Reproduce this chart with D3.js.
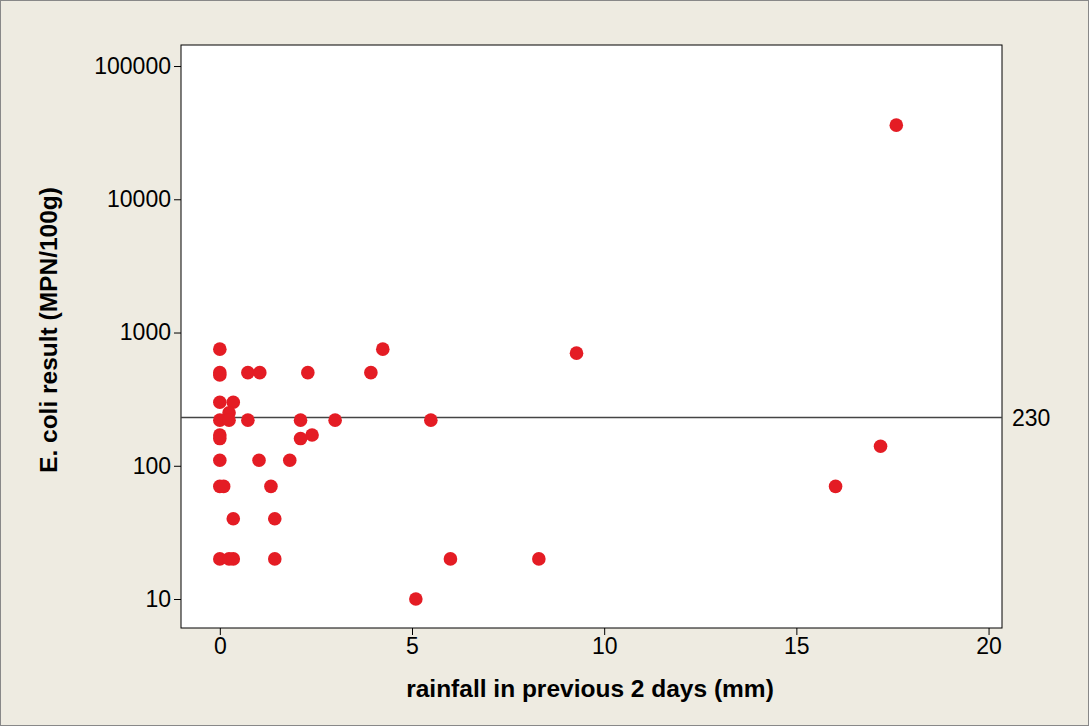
<!DOCTYPE html>
<html><head><meta charset="utf-8">
<script src="https://cdn.jsdelivr.net/npm/d3@7"></script>
<style>body{margin:0;background:#eeebe1;}</style>
</head><body><div id="chart"></div>
<script>
const rainfall = [0,0,0,0.73,1.04,2.29,0,0.35,0.24,0,0.24,0.73,2.1,3.0,0,0,2.1,2.4,0,1.02,1.82,0,0.1,1.33,0.35,1.43,0,0.24,0.35,1.43,4.24,3.93,5.49,9.28,5.1,6.0,8.3,16.02,17.19,17.6];
const ecoli = [750,500,480,500,500,500,300,300,250,220,220,220,220,220,170,160,160,170,110,110,110,70,70,70,40,40,20,20,20,20,750,500,220,700,10,20,20,70,140,36000];
const xTicks = [0,5,10,15,20];
const yTicks = [10,100,1000,10000,100000];
const refValue = 230;

const W = 1089, H = 726;
const m = {left:181, right:87, top:45, bottom:98};
const font = "Liberation Sans, Arial";
const svg = d3.select("#chart").append("svg").attr("width", W).attr("height", H);
svg.append("rect").attr("x",0.5).attr("y",0.5).attr("width",W-1).attr("height",H-1)
  .attr("fill","#eeebe1").attr("stroke","#888");
const pw = W - m.left - m.right, ph = H - m.top - m.bottom;
const g = svg.append("g").attr("transform", `translate(${m.left},${m.top})`);
g.append("rect").attr("width", pw).attr("height", ph).attr("fill","#fff").attr("stroke","#000");

const x = d3.scaleLinear().domain([-1.01, 20.35]).range([0, pw]);
const y = d3.scaleLog().domain([6.06, 143800]).range([ph, 0]);

const xa = g.append("g").attr("transform", `translate(0,${ph})`)
  .call(d3.axisBottom(x).tickValues(xTicks).tickSize(7).tickSizeOuter(0));
const ya = g.append("g").call(d3.axisLeft(y).tickValues(yTicks).tickFormat(d3.format("d")).tickSize(7).tickSizeOuter(0));
[xa, ya].forEach(a => {
  a.select(".domain").remove();
  a.selectAll("text").attr("font-family",font).attr("font-size",23).attr("fill","#000");
});

g.append("line").attr("x1",0).attr("x2",pw).attr("y1",y(refValue)).attr("y2",y(refValue))
  .attr("stroke","#444").attr("stroke-width",1.5);
svg.append("text").attr("x", m.left+pw+10).attr("y", m.top+y(refValue)+8)
  .attr("font-family",font).attr("font-size",23).text(refValue);

g.selectAll("circle").data(rainfall).join("circle")
  .attr("cx", d => x(d)).attr("cy", (d,i) => y(ecoli[i])).attr("r", 6.8).attr("fill","#e41c24");

svg.append("text").attr("x", 590).attr("y", 697).attr("text-anchor","middle")
  .attr("font-family",font).attr("font-size",24.5).attr("font-weight","bold")
  .text("rainfall in previous 2 days (mm)");
svg.append("text").attr("transform", `translate(57,330) rotate(-90)`).attr("text-anchor","middle")
  .attr("font-family",font).attr("font-size",24.5).attr("font-weight","bold")
  .text("E. coli result (MPN/100g)");
</script></body></html>
